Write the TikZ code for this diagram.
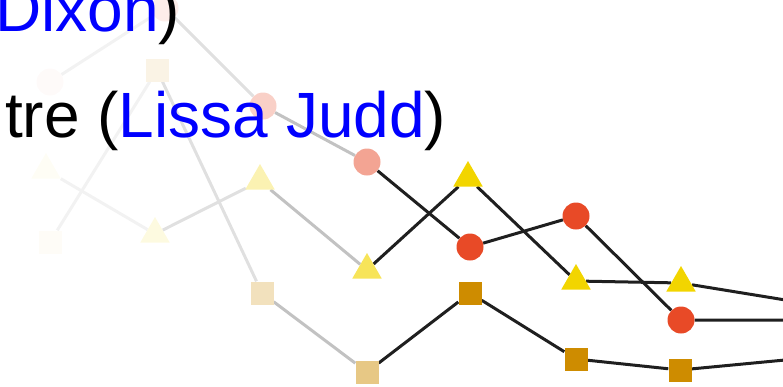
\documentclass[tikz,border=0pt]{standalone}
\usepackage{fontspec}
\setmainfont{Liberation Sans}
\usetikzlibrary{shapes.geometric,backgrounds}
\definecolor{cred}{HTML}{E84A27}
\definecolor{cyel}{HTML}{F2D500}
\definecolor{cgold}{HTML}{CE8C00}
\definecolor{tblue}{HTML}{0000FF}
\begin{document}
\begin{tikzpicture}[x=1pt,y=-1pt,
  circ/.style={circle,inner sep=0,minimum size=27pt,fill=#1},
  tri/.style={regular polygon,regular polygon sides=3,inner sep=0,minimum size=34pt,fill=#1},
  sq/.style={rectangle,inner sep=0,minimum size=23pt,fill=#1},
  seg/.style={line width=3pt,draw=#1},
  txt/.style={inner sep=0,anchor=base west,font=\fontsize{64}{76}\selectfont}]
\useasboundingbox (0,0) rectangle (783,386);
\clip (0,0) rectangle (783,386);
% circles
\node[circ=cred!3!white]  (c0) at (50,82) {};
\node[circ=cred!10!white] (c1) at (165,8) {};
\node[circ=cred!26!white] (c2) at (263,106) {};
\node[circ=cred!50!white] (c3) at (367,162) {};
\node[circ=cred] (c4) at (470,247) {};
\node[circ=cred] (c5) at (576,216) {};
\node[circ=cred] (c6) at (681,320) {};
\coordinate (c7) at (890,320);
% triangles
\node[tri=cyel!4!white]  (t0) at (46,170) {};
\node[tri=cyel!12!white] (t1) at (155,234) {};
\node[tri=cyel!30!white] (t2) at (260,181) {};
\node[tri=cyel!65!white] (t3) at (367,270) {};
\node[tri=cyel] (t4) at (468,178) {};
\node[tri=cyel] (t5) at (576,281) {};
\node[tri=cyel] (t6) at (681,283) {};
\coordinate (t7) at (890,317);
% squares
\node[sq=cgold!3!white]  (s0) at (50,242) {};
\node[sq=cgold!10!white] (s1) at (157,70) {};
\node[sq=cgold!26!white] (s2) at (262,293) {};
\node[sq=cgold!48!white] (s3) at (367,372) {};
\node[sq=cgold] (s4) at (470,293) {};
\node[sq=cgold] (s5) at (576,359) {};
\node[sq=cgold] (s6) at (680,370) {};
\coordinate (s7) at (890,350);
\begin{scope}[on background layer]
\foreach \s in {c,t,s}{
  \draw[seg=black!5]  (\s0) -- (\s1);
  \draw[seg=black!12] (\s1) -- (\s2);
  \draw[seg=black!24] (\s2) -- (\s3);
  \draw[seg=black!88] (\s3) -- (\s4) -- (\s5) -- (\s6) -- (\s7);
}
\end{scope}
\node[txt] (l1) at (-5,31) {\textcolor{tblue}{Dixon})};
\node[txt] (l2) at (5,137) {tre (\textcolor{tblue}{Lissa Judd})};
\end{tikzpicture}
\end{document}
